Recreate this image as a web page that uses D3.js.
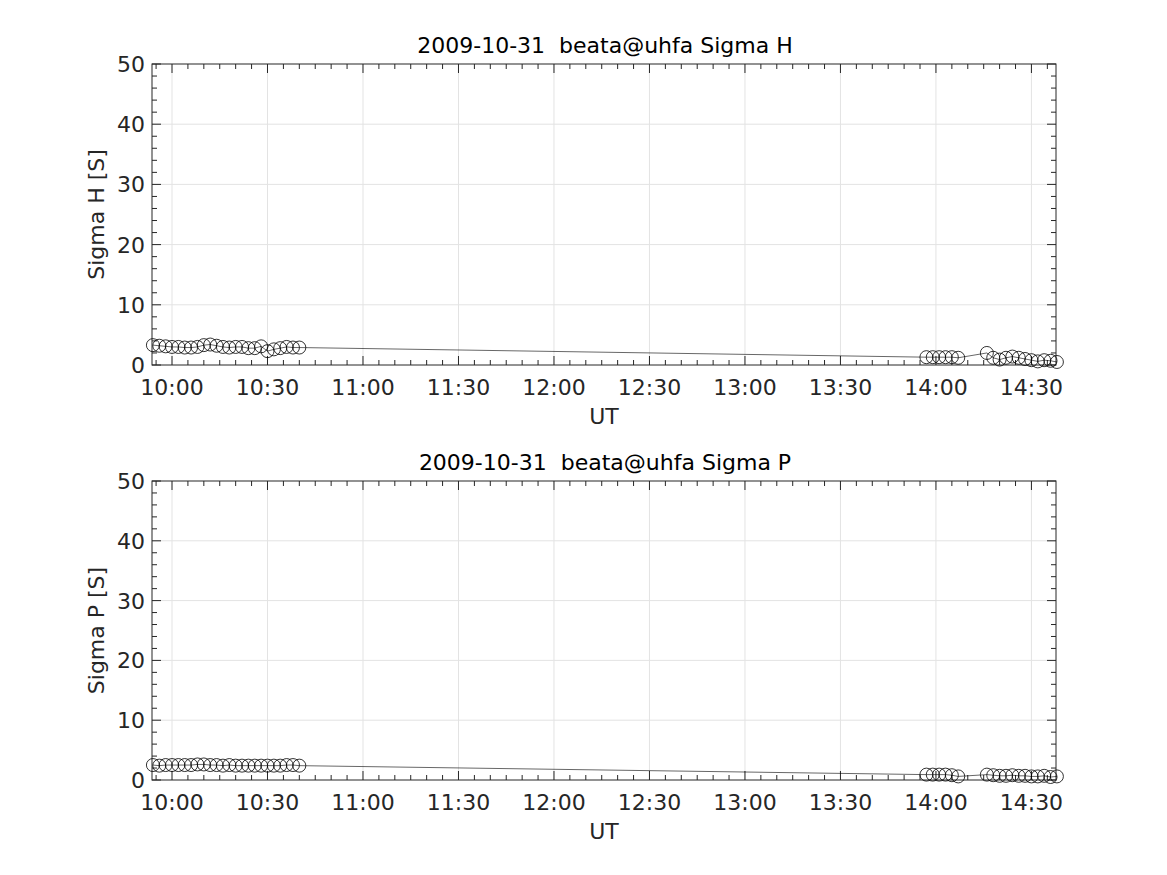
<!DOCTYPE html>
<html>
<head>
<meta charset="utf-8">
<script src="https://d3js.org/d3.v7.min.js"></script>
<style>
  body { margin: 0; background: #fff; }
  svg { font-family: "DejaVu Sans", sans-serif; }
  text { white-space: pre; }
</style>
</head>
<body>
<svg width="1167" height="875"></svg>
<script>
// sample times (UT) on 2009-10-31
const times = [
  "09:54","09:56","09:58","10:00","10:02","10:04","10:06","10:08","10:10","10:12",
  "10:14","10:16","10:18","10:20","10:22","10:24","10:26","10:28","10:30","10:32",
  "10:34","10:36","10:38","10:40",
  "13:57","13:59","14:01","14:03","14:05","14:07",
  "14:16","14:18","14:20","14:22","14:24","14:26","14:28","14:30","14:32","14:34","14:36","14:38"
];
const sigmaH = [
  3.3,3.2,3.1,3.0,3.0,2.9,2.9,3.0,3.3,3.4,
  3.2,3.0,2.9,3.0,3.0,2.8,2.8,3.1,2.3,2.6,
  2.8,3.0,2.9,2.9,
  1.3,1.3,1.3,1.3,1.3,1.2,
  2.0,1.2,0.9,1.2,1.4,1.2,1.0,0.8,0.6,0.8,0.7,0.5
];
const sigmaP = [
  2.5,2.4,2.5,2.5,2.5,2.5,2.5,2.6,2.6,2.5,
  2.5,2.4,2.5,2.4,2.4,2.4,2.4,2.4,2.4,2.4,
  2.4,2.5,2.5,2.4,
  0.9,0.9,0.9,0.9,0.8,0.6,
  0.9,0.8,0.7,0.7,0.8,0.7,0.7,0.6,0.6,0.7,0.5,0.6
];
const xTickLabels = ["10:00","10:30","11:00","11:30","12:00","12:30","13:00","13:30","14:00","14:30"];
const yTicks = [0, 10, 20, 30, 40, 50];
const dateStr = "2009-10-31";

const toDate = t => new Date(`${dateStr}T${t}:00Z`);

const panels = [
  {title: `${dateStr}  beata@uhfa Sigma H`, ylabel: "Sigma H [S]", values: sigmaH, top: 64, bottom: 365},
  {title: `${dateStr}  beata@uhfa Sigma P`, ylabel: "Sigma P [S]", values: sigmaP, top: 481, bottom: 780}
];

const left = 152, right = 1056;
const fs = 22;
const svg = d3.select('svg');

const x = d3.scaleUtc()
  .domain([new Date(`${dateStr}T09:53:43Z`), new Date(`${dateStr}T14:37:43Z`)])
  .range([left, right]);

const majorX = xTickLabels.map(toDate);
const minorX = d3.utcMinute.every(5).range(x.domain()[0], x.domain()[1]);

panels.forEach(p => {
  const y = d3.scaleLinear().domain([0, 50]).range([p.bottom, p.top]);
  const g = svg.append('g');
  const w = right - left, h = p.bottom - p.top;

  // grid
  g.append('g').selectAll('line').data(majorX).enter().append('line')
    .attr('x1', d => x(d)).attr('x2', d => x(d))
    .attr('y1', p.top).attr('y2', p.bottom)
    .attr('stroke', '#e3e3e3').attr('stroke-width', 1);
  g.append('g').selectAll('line').data(yTicks.slice(1, -1)).enter().append('line')
    .attr('x1', left).attr('x2', right)
    .attr('y1', d => y(d)).attr('y2', d => y(d))
    .attr('stroke', '#e3e3e3').attr('stroke-width', 1);

  // ticks (inward, all four sides)
  const minorY = d3.range(0, 50.1, 2);
  const tk = g.append('g').attr('stroke', '#262626').attr('stroke-width', 1);
  minorX.forEach(d => {
    const major = majorX.some(m => +m === +d);
    const len = major ? 9 : 5;
    tk.append('line').attr('x1', x(d)).attr('x2', x(d)).attr('y1', p.bottom).attr('y2', p.bottom - len);
    tk.append('line').attr('x1', x(d)).attr('x2', x(d)).attr('y1', p.top).attr('y2', p.top + len);
  });
  minorY.forEach(d => {
    const len = d % 10 === 0 ? 9 : 5;
    tk.append('line').attr('y1', y(d)).attr('y2', y(d)).attr('x1', left).attr('x2', left + len);
    tk.append('line').attr('y1', y(d)).attr('y2', y(d)).attr('x1', right).attr('x2', right - len);
  });

  g.append('rect')
    .attr('x', left).attr('y', p.top).attr('width', w).attr('height', h)
    .attr('fill', 'none').attr('stroke', '#262626').attr('stroke-width', 1);

  // tick labels
  g.append('g').selectAll('text').data(majorX).enter().append('text')
    .attr('x', d => x(d)).attr('y', p.bottom + 30)
    .attr('text-anchor', 'middle').attr('font-size', fs).attr('fill', '#262626')
    .text(d => d3.utcFormat('%H:%M')(d));
  g.append('g').selectAll('text').data(yTicks).enter().append('text')
    .attr('x', left - 7).attr('y', d => y(d) + 8)
    .attr('text-anchor', 'end').attr('font-size', fs).attr('fill', '#262626')
    .text(d => d);

  // labels
  g.append('text')
    .attr('x', (left + right) / 2 + 1).attr('y', p.top - 11)
    .attr('text-anchor', 'middle').attr('font-size', fs).attr('fill', '#000')
    .text(p.title);
  g.append('text')
    .attr('x', (left + right) / 2).attr('y', p.bottom + 59)
    .attr('text-anchor', 'middle').attr('font-size', fs).attr('fill', '#262626')
    .text('UT');
  g.append('text')
    .attr('transform', `translate(${104},${(p.top + p.bottom) / 2}) rotate(-90)`)
    .attr('text-anchor', 'middle').attr('font-size', fs).attr('fill', '#262626')
    .text(p.ylabel);

  // data
  const pts = times.map((t, i) => ({t: toDate(t), v: p.values[i]}));
  const line = d3.line().x(d => x(d.t)).y(d => y(d.v));
  g.append('path').attr('d', line(pts))
    .attr('fill', 'none').attr('stroke', '#000').attr('stroke-width', 0.6);
  g.append('g').selectAll('circle').data(pts).enter().append('circle')
    .attr('cx', d => x(d.t)).attr('cy', d => y(d.v)).attr('r', 6.5)
    .attr('fill', 'none').attr('stroke', '#000').attr('stroke-width', 0.8);
});
</script>
</body>
</html>
